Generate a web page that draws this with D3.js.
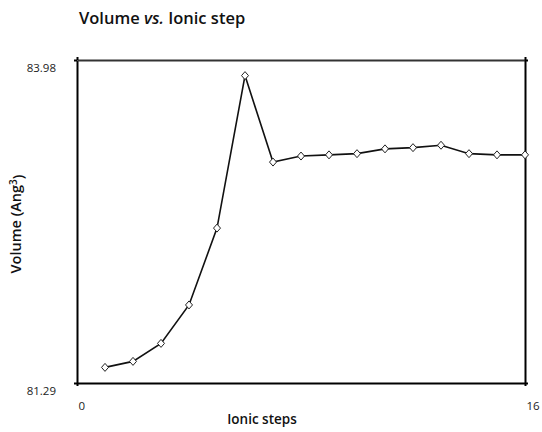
<!DOCTYPE html>
<html>
<head>
<meta charset="utf-8">
<script src="https://cdn.jsdelivr.net/npm/d3@7"></script>
<style>
  body { margin: 0; background: #fff; }
  svg { font-family: "Open Sans", sans-serif; }
</style>
</head>
<body>
<svg width="542" height="432"></svg>
<script>
// ionic step index and cell volume
var steps = [1, 2, 3, 4, 5, 6, 7, 8, 9, 10, 11, 12, 13, 14, 15, 16];
var volumes = [81.42, 81.47, 81.62, 81.94, 82.58, 83.85, 83.13, 83.18,
               83.19, 83.20, 83.24, 83.25, 83.27, 83.20, 83.19, 83.19];
var xTicks = [0, 16];
var yTicks = [81.29, 83.98];

var svg = d3.select("svg");
// plot box (note: "top" is reserved on window, so use other names)
var plotL = 77, plotR = 525, plotT = 60, plotB = 383;

var x = d3.scaleLinear().domain([0, 16]).range([plotL, plotR]);
var y = d3.scaleLinear().domain([81.29, 83.98]).range([plotB, plotT]);

// frame: four axes with short end ticks
var gLeft = svg.append("g").attr("transform", "translate(" + plotL + ",0)")
    .call(d3.axisLeft(y).tickValues(yTicks).tickSize(3).tickSizeOuter(0).tickPadding(18)
        .tickFormat(d3.format(".2f")));
gLeft.selectAll("text").attr("transform", "translate(0,8)");

var gBottom = svg.append("g").attr("transform", "translate(0," + plotB + ")")
    .call(d3.axisBottom(x).tickValues(xTicks).tickSize(3).tickSizeOuter(0).tickPadding(16));
gBottom.selectAll("text").attr("text-anchor", "start").attr("dx", "1");

var gTop = svg.append("g").attr("transform", "translate(0," + plotT + ")")
    .call(d3.axisTop(x).tickValues(xTicks).tickSize(3).tickSizeOuter(0).tickFormat(""));
var gRight = svg.append("g").attr("transform", "translate(" + plotR + ",0)")
    .call(d3.axisRight(y).tickValues(yTicks).tickSize(3).tickSizeOuter(0).tickFormat(""));

svg.selectAll(".domain").attr("stroke", "#000").attr("stroke-width", 2);
svg.selectAll(".tick line").attr("stroke", "#000").attr("stroke-width", 2);
svg.selectAll(".tick text").attr("font-size", 11.5).attr("fill", "#222")
    .attr("font-family", "Open Sans, sans-serif");

// top border a bit greyer, like the original
gTop.select(".domain").attr("stroke", "#333");

// the line
var line = d3.line()
    .x(function(d, i) { return x(steps[i]); })
    .y(function(d) { return y(d); });

svg.append("path")
    .datum(volumes)
    .attr("d", line)
    .attr("fill", "none")
    .attr("stroke", "#111")
    .attr("stroke-width", 1.6);

// diamond markers
svg.selectAll(".pt")
    .data(volumes)
    .enter().append("path")
    .attr("class", "pt")
    .attr("transform", function(d, i) { return "translate(" + x(steps[i]) + "," + y(d) + ")"; })
    .attr("d", "M0,-4L3.5,0L0,4L-3.5,0Z")
    .attr("fill", "#fff")
    .attr("stroke", "#222")
    .attr("stroke-width", 1);

// titles
var title = svg.append("text")
    .attr("x", 79).attr("y", 23.5)
    .attr("font-size", 16.5).attr("font-weight", 600).attr("fill", "#111");
title.append("tspan").text("Volume ");
title.append("tspan").attr("font-style", "italic").text("vs.");
title.append("tspan").text(" Ionic step");

svg.append("text")
    .attr("x", 262).attr("y", 424)
    .attr("text-anchor", "middle")
    .attr("font-size", 13.5).attr("font-weight", 600).attr("fill", "#111")
    .text("Ionic steps");

var yt = svg.append("text")
    .attr("transform", "translate(21,224) rotate(-90)")
    .attr("text-anchor", "middle")
    .attr("font-size", 14.5).attr("font-weight", 600).attr("fill", "#111");
yt.append("tspan").text("Volume (Ang");
yt.append("tspan").attr("dy", "-0.45em").attr("font-size", 10).text("3");
yt.append("tspan").attr("dy", "0.45em").text(")");
</script>
</body>
</html>
